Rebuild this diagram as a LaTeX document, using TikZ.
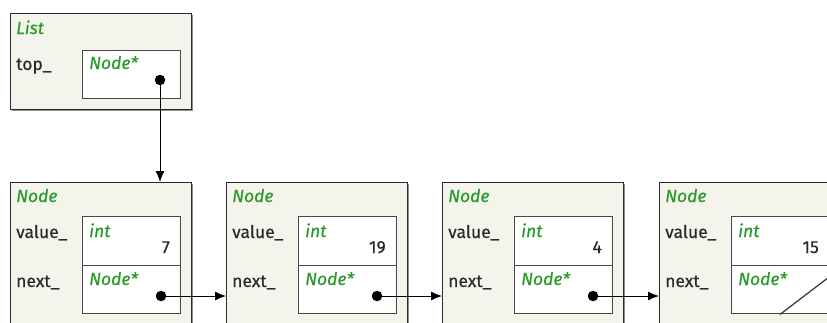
\documentclass[tikz,border=0pt]{standalone}
\usepackage{fontspec}
\setmainfont{Fira Sans}[FakeBold=0.35]
\usetikzlibrary{shadows,arrows.meta,calc}
\definecolor{boxfill}{HTML}{F4F4EC}
\definecolor{typegreen}{HTML}{2A9A2A}
\definecolor{ink}{HTML}{2A2A2A}
\begin{document}
\begin{tikzpicture}[x=1pt,y=-1pt,
  font=\fontsize{17.5}{20}\selectfont,
  frame/.style={draw=ink, line width=1pt, fill=boxfill, minimum width=181pt,
    inner sep=0pt, anchor=north west,
    drop shadow={shadow xshift=1.5pt, shadow yshift=-1.5pt, fill=black!45, opacity=1}},
  cell/.style={draw=black!72, line width=1.4pt, fill=white, minimum width=98pt,
    inner sep=0pt, anchor=north west},
  typename/.style={text=typegreen, font=\fontsize{17.5}{20}\selectfont\itshape,
    anchor=base west, inner sep=0pt},
  field/.style={text=ink, anchor=base west, inner sep=0pt},
  num/.style={text=ink, anchor=base east, inner sep=0pt},
  dot/.style={circle, fill=black, inner sep=0pt, minimum size=10.5pt},
  link/.style={-{Latex[length=11pt,width=9pt]}, line width=0.9pt}
]
\useasboundingbox (0,0) rectangle (827,322);
\clip (0,0) rectangle (827,322);

% the list object
\node[frame, minimum height=96pt] (list) at (10,13) {};
\node[typename] (listname) at (16,34) {List};
\node[field] (topfield) at (16,70) {top\_};
\node[cell, minimum height=48pt] (topcell) at (82,50) {};
\node[typename] (toptype) at (89,69) {Node*};
\node[dot] (topdot) at (160,80) {};

% the chain of nodes
\foreach \i/\x/\v in {1/10/7, 2/226/19, 3/442/4, 4/659/15} {
  \node[frame, minimum height=170pt] (n\i) at (\x,182) {};
  \node[typename] (n\i title) at (\x+6,202) {Node};
  \node[field] (n\i value) at (\x+6,238) {value\_};
  \node[field] (n\i next) at (\x+6,287) {next\_};
  \node[cell, minimum height=49pt] (c\i val) at (\x+72,216) {};
  \node[cell, minimum height=48pt] (c\i nxt) at (\x+72,265) {};
  \node[typename] (c\i int) at (\x+79,237) {int};
  \node[num] (c\i num) at (\x+160,253) {\v};
  \node[typename] (c\i ptr) at (\x+79,285) {Node*};
}

% pointers
\draw[link] (topdot.center) -- (topdot.center |- n1.north);
\foreach \i/\x [evaluate=\i as \j using int(\i+1)] in {1/10, 2/226, 3/442} {
  \node[dot] (d\i) at (\x+151,296) {};
  \draw[link] (d\i.center) -- (d\i.center -| n\j.west);
}

% null pointer in the last node
\draw[line width=1.2pt, black!80] ($(c4nxt.south west)+(49,0)$) -- ($(c4nxt.north east)+(0,11)$);
\end{tikzpicture}
\end{document}
